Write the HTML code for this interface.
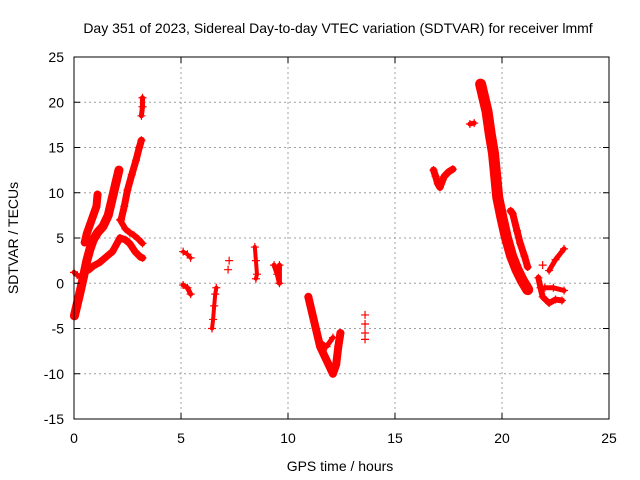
<!DOCTYPE html>
<html><head><meta charset="utf-8"><style>
html,body{margin:0;padding:0;background:#fff;}
svg{display:block;font-family:"Liberation Sans",sans-serif;}
</style></head><body>
<svg id="chart" width="640" height="480" viewBox="0 0 640 480" xmlns="http://www.w3.org/2000/svg">
<rect width="640" height="480" fill="#fff"/>
<text x="338" y="33" font-size="14" text-anchor="middle" fill="#000">Day 351 of 2023, Sidereal Day-to-day VTEC variation (SDTVAR) for receiver lmmf</text>
<text x="340" y="471" font-size="14" text-anchor="middle">GPS time / hours</text>
<text transform="translate(18,238) rotate(-90)" font-size="14" text-anchor="middle">SDTVAR / TECUs</text>
<g id="grid"></g><g id="marks"></g><g id="axes"></g>
</svg>
<script>
const xTicks=[0,5,10,15,20,25];
const yTicks=[-15,-10,-5,0,5,10,15,20,25];
const trackA=[[0.02,-3.6],[0.15,-2.3],[0.3,-0.8],[0.45,0.8],[0.6,2.5],[0.75,3.8],[0.9,4.8],[1.1,5.6],[1.36,6.3],[1.6,7.5],[1.8,9.5],[1.95,11],[2.1,12.5]];
const trackA2=[[0.5,4.5],[0.6,5.5],[0.75,6.5],[0.9,7.5],[1.05,8.5],[1.1,9.8]];
const trackB=[[2.2,7],[2.35,8.5],[2.5,10.3],[2.7,12],[2.9,13.6],[3.05,15],[3.15,15.8]];
const trackB2=[[3.15,18.5],[3.2,19.5],[3.2,20.5]];
const trackC=[[0.7,1.5],[0.9,1.9],[1.2,2.3],[1.5,2.9],[1.8,3.5],[2.15,5],[2.4,4.8],[2.6,4.4],[2.85,3.5],[3.1,2.9],[3.2,2.8]];
const trackD=[[2.15,7],[2.4,6],[2.6,5.6],[2.8,5.3],[3.0,4.9],[3.2,4.4]];
const trackE=[[0.0,1.2],[0.15,0.9],[0.3,0.7]];
const trackF1=[[5.1,3.5],[5.3,3.2],[5.45,2.8]];
const trackF2=[[5.1,-0.2],[5.3,-0.5],[5.45,-1.2]];
const trackF3=[[6.45,-5],[6.5,-4],[6.55,-2.5],[6.6,-1.2],[6.65,-0.5]];
const trackF4=[[7.2,1.5],[7.25,2.5]];
const trackF5=[[8.45,4],[8.5,2.5],[8.55,1],[8.5,0.5]];
const trackF6=[[9.35,2],[9.5,1],[9.6,0],[9.6,2]];
const trackG=[[10.95,-1.5],[11.1,-3],[11.3,-5],[11.5,-7],[11.7,-8],[11.9,-9],[12.1,-10],[12.25,-9],[12.35,-7],[12.45,-5.5]];
const trackG2=[[11.5,-6.5],[11.8,-7],[12.1,-6]];
const trackG3=[[13.6,-3.5],[13.6,-4.5],[13.6,-5.5],[13.6,-6.2]];
const trackH=[[16.8,12.5],[16.9,11.8],[17.0,11],[17.1,10.6],[17.3,11.8],[17.5,12.3],[17.7,12.6]];
const trackH2=[[18.5,17.6],[18.7,17.7]];
const trackI=[[19.0,22],[19.15,20.5],[19.3,19],[19.45,16.5],[19.6,14.4],[19.7,12],[19.8,9.5],[20.0,7.2],[20.2,5.1],[20.45,3],[20.7,1.5],[20.95,0.3],[21.2,-0.7]];
const trackJ=[[20.4,8],[20.5,7.7],[20.7,5.8],[20.85,4.4],[21.05,3],[21.2,1.8]];
const trackK=[[21.7,0.6],[21.8,-0.5],[21.9,-1.5],[22.2,-2.2],[22.5,-1.8],[22.8,-1.9]];
const trackK2=[[22.0,-0.5],[22.4,-0.5],[22.9,-0.8]];
const trackL=[[22.2,1.4],[22.5,2.6],[22.9,3.8]];
const singles=[[21.9,2]];

const X0=74,X1=609,Y0=419,Y1=57;
const xs=v=>X0+(v-0)/(25-0)*(X1-X0);
const ys=v=>Y0-(v+15)/(40)*(Y0-Y1);
const NS='http://www.w3.org/2000/svg';
function mk(tag,attrs,parent){const e=document.createElementNS(NS,tag);for(const k in attrs)e.setAttribute(k,attrs[k]);parent.appendChild(e);return e;}
const grid=document.getElementById('grid'),marks=document.getElementById('marks'),axes=document.getElementById('axes');
xTicks.forEach(t=>{
  const x=xs(t);
  if(t>0&&t<25){const g=mk('line',{x1:x,x2:x,y1:Y1,y2:Y0,stroke:'#a0a0a0','stroke-dasharray':'2,3'},grid);
  
  }
  mk('line',{x1:x,x2:x,y1:Y0,y2:Y0-6,stroke:'#000'},axes);
  mk('line',{x1:x,x2:x,y1:Y1,y2:Y1+6,stroke:'#000'},axes);
  const l=mk('text',{x:x,y:Y0+24,'font-size':14,'text-anchor':'middle'},axes);l.textContent=t;
  
  
});
yTicks.forEach(t=>{
  const y=ys(t);
  if(t>-15&&t<25){const g=mk('line',{x1:X0,x2:X1,y1:y,y2:y,stroke:'#a0a0a0','stroke-dasharray':'2,3'},grid);
  
  }
  mk('line',{x1:X0,x2:X0+6,y1:y,y2:y,stroke:'#000'},axes);
  mk('line',{x1:X1,x2:X1-6,y1:y,y2:y,stroke:'#000'},axes);
  const l=mk('text',{x:X0-10,y:y+5,'font-size':14,'text-anchor':'end'},axes);l.textContent=t;
  
  
});
const box=mk('rect',{x:X0,y:Y1,width:X1-X0,height:Y0-Y1,fill:'none',stroke:'#000'},axes);


function track(pts,name,w){
  const g=mk('g',{},marks);
  
  
  if(pts.length>1&&w>0){
    mk('polyline',{points:pts.map(p=>xs(p[0])+','+ys(p[1])).join(' '),fill:'none',stroke:'#f00','stroke-width':w,'stroke-linecap':'round','stroke-linejoin':'round'},g);
  }
  pts.forEach(p=>{const x=xs(p[0]),y=ys(p[1]);
    mk('path',{d:`M${x-4},${y}H${x+4}M${x},${y-4}V${y+4}`,stroke:'#f00','stroke-width':1.2},g);});
}
track(trackA,'series-track-a',9);track(trackA2,'series-track-a2',8);
track(trackB,'series-track-b',7);track(trackB2,'series-track-b2',5);
track(trackC,'series-track-c',7);track(trackD,'series-track-d',6);
track(trackE,'series-track-e',5);
track(trackF1,'series-track-f1',4);track(trackF2,'series-track-f2',5);
track(trackF3,'series-track-f3',4);track(trackF4,'series-track-f4',0);
track(trackF5,'series-track-f5',4);track(trackF6,'series-track-f6',5);
track(trackG,'series-track-g',8);track(trackG2,'series-track-g2',5);track(trackG3,'series-track-g3',0);
track(trackH,'series-track-h',7);track(trackH2,'series-track-h2',5);
track(trackI,'series-track-i',11);track(trackJ,'series-track-j',7);
track(trackK,'series-track-k',6);track(trackK2,'series-track-k2',5);
track(trackL,'series-track-l',5);track(singles,'series-singles',0);
</script>
</body></html>
